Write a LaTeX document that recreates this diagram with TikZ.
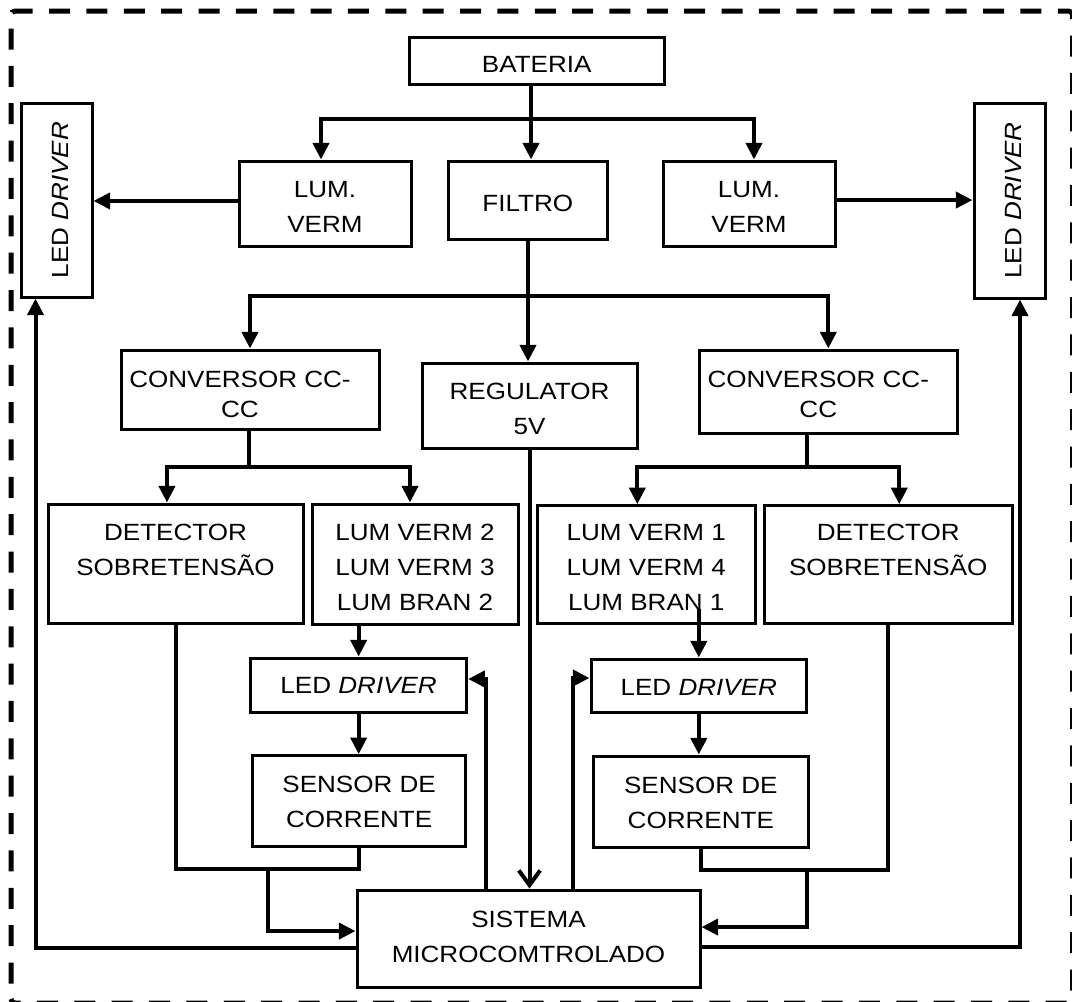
\documentclass[tikz,border=0pt]{standalone}
\usepackage{fontspec}
\usepackage{graphicx}
\setmainfont{Liberation Sans}[FakeStretch=1.11]
\usetikzlibrary{arrows.meta,calc}
% line strut: depth #1, total height #2
\newcommand\sr[2]{\rule[-#1]{0pt}{#2}}
\newcommand\lnstrut{\sr{4.5pt}{26.25pt}}
\begin{document}
\begin{tikzpicture}[x=0.75pt,y=-0.75pt,
  blk/.style={draw,line width=2.25pt,inner sep=0pt,align=center,
    font=\fontsize{17.6pt}{26.25pt}\selectfont},
  tight/.style={font=\fontsize{17.6pt}{22.5pt}\selectfont},
  sz/.style 2 args={minimum width={(#1)*0.75pt},minimum height={(#2)*0.75pt}},
  con/.style={line width=3pt},
  arr/.style={con,-{Triangle[length=12.5pt,width=12pt]}},
  varr/.style={con,-{Straight Barb[length=11pt,width=16pt]}},
  outerframe/.style={line width=3.75pt,dash pattern=on 15.75pt off 12.27pt,
    dash phase=16.4pt,rounded corners=3pt}]

\fill[white] (0,0) rectangle (1072,1001);
\useasboundingbox (0,0) rectangle (1072,1001);

% dashed enclosure
\draw[outerframe] (11,1003) -- (11,11) -- (1072.5,11) -- (1072.5,1003) -- cycle;

% blocks
\node[blk,sz={255.5}{47}] (bat) at (536.75,60.5) {BATERIA\lnstrut};
\node[blk,sz={172}{85}] (luml) at (325,203.5) {LUM.\lnstrut\\VERM\lnstrut};
\node[blk,sz={159.6}{78}] (filtro) at (527.8,200) {FILTRO\lnstrut};
\node[blk,sz={172}{85}] (lumr) at (749,203.5) {LUM.\lnstrut\\VERM\lnstrut};
\node[blk,sz={71}{194}] (ledl) at (56.5,200) {\rotatebox{90}{LED \textit{DRIVER}\lnstrut}};
\node[blk,sz={71.5}{195}] (ledr) at (1009.75,200.5) {\rotatebox{90}{LED \textit{DRIVER}\lnstrut}};

\node[blk,tight,sz={258}{79}] (convl) at (250,389.5)
  {CONVERSOR CC-\hspace*{15pt}\sr{1.65pt}{22.5pt}\\CC\hspace*{15pt}\sr{1.65pt}{22.5pt}};
\node[blk,sz={215}{85}] (reg) at (529.5,405.5) {REGULATOR\lnstrut\\5V\lnstrut};
\node[blk,tight,sz={258.6}{83}] (convr) at (828.3,391.5)
  {CONVERSOR CC-\hspace*{15pt}\sr{3.15pt}{22.5pt}\\CC\hspace*{15pt}\sr{3.15pt}{22.5pt}};

\node[blk,sz={255}{119}] (detl) at (175.5,563.5) {DETECTOR\lnstrut\\SOBRETENSÃO\lnstrut\\\lnstrut};
\node[blk,sz={206}{120}] (lum2) at (415,564) {LUM VERM 2\lnstrut\\LUM VERM 3\lnstrut\\LUM BRAN 2\lnstrut};
\node[blk,sz={217.4}{117.3}] (lum1) at (646.3,564.4) {LUM VERM 1\lnstrut\\LUM VERM 4\lnstrut\\LUM BRAN 1\lnstrut};
\node[blk,sz={247.5}{117.3}] (detr) at (888.25,564.4) {DETECTOR\lnstrut\\SOBRETENSÃO\lnstrut\\\lnstrut};

\node[blk,sz={216}{54}] (drvl) at (358.65,685) {LED \textit{DRIVER}\sr{7.1pt}{26.25pt}};
\node[blk,sz={215.6}{53}] (drvr) at (698.8,685.5) {LED \textit{DRIVER}\sr{6pt}{26.25pt}};
\node[blk,sz={212.7}{91}] (senl) at (359.15,801.2) {SENSOR DE\sr{6.2pt}{26.25pt}\\CORRENTE\sr{6.2pt}{26.25pt}};
\node[blk,sz={215.6}{91}] (senr) at (700.8,801.5) {SENSOR DE\sr{6.2pt}{26.25pt}\\CORRENTE\sr{6.2pt}{26.25pt}};
\node[blk,sz={343}{97}] (sis) at (528.5,938.5) {SISTEMA\sr{8.6pt}{26.25pt}\\MICROCOMTROLADO\sr{8.6pt}{26.25pt}};

% battery distribution
\coordinate (jb) at (531,119);
\draw[con] (bat.south -| jb) -- (jb);
\draw[arr] (jb) -| ([xshift=-3pt]luml.north);
\draw[arr] (jb) -- (filtro.north -| jb);
\draw[arr] (jb) -| ([xshift=3.75pt]lumr.north);

\coordinate (aL) at ([yshift=1.9pt]luml.west);
\draw[arr] (aL) -- (aL -| ledl.east);
\coordinate (aR) at ([yshift=2.6pt]lumr.east);
\draw[arr] (aR) -- (aR -| ledr.west);

% filter distribution
\coordinate (jf) at (528,296);
\draw[con] (filtro.south -| jf) -- (jf);
\draw[arr] (jf) -| (convl.north);
\draw[arr] (jf) -- (reg.north -| jf);
\draw[arr] (jf) -| (convr.north);

% converters
\coordinate (jcl) at (249,467);
\draw[con] (convl.south -| jcl) -- (jcl);
\draw[arr] (jcl) -| ([xshift=-6.4pt]detl.north);
\draw[arr] (jcl) -| ([xshift=-3.75pt]lum2.north);

\coordinate (jcr) at (807,467);
\draw[con] (convr.south -| jcr) -- (jcr);
\draw[arr] (jcr) -| ([xshift=-6.75pt]lum1.north);
\draw[arr] (jcr) -| ([xshift=8.25pt]detr.north);

% lamp chains
\draw[arr] (lum2.south -| drvl.north) -- (drvl.north);
\coordinate (l1s) at ([yshift=12pt]lum1.south);
\draw[arr] (l1s -| drvr.north) -- (drvr.north);
\draw[arr] (drvl.south) -- (senl.north -| drvl.south);
\draw[arr] (drvr.south) -- (senr.north -| drvr.south);

% 5 V supply
\draw[varr] (reg.south) -- (reg.south |- sis.north);

% left feedback loop
\coordinate (jl) at (268,869);
\draw[con] (detl.south) |- (jl) -| (senl.south);
\coordinate (sL1) at ([yshift=5.6pt]sis.west);
\draw[arr] (jl) |- (sL1);
\coordinate (sL2) at ([yshift=-7.1pt]sis.west);
\coordinate (lL) at ([xshift=-15.75pt]ledl.south);
\draw[arr] (sL2) -| (lL);

% right feedback loop
\coordinate (jr) at (807,870);
\draw[con] (senr.south) |- (jr) -| (detr.south);
\coordinate (sR1) at ([yshift=8.6pt]sis.east);
\draw[arr] (jr) |- (sR1);
\coordinate (sR2) at ([yshift=-6.4pt]sis.east);
\coordinate (lR) at ([xshift=7.7pt]ledr.south);
\draw[arr] (sR2) -| (lR);

% driver control
\coordinate (fl) at (486,679);
\draw[arr] (sis.north -| fl) -- (fl) -- (fl -| drvl.east);
\coordinate (fr) at (573,678);
\draw[arr] (sis.north -| fr) -- (fr) -- (fr -| drvr.west);
\end{tikzpicture}
\end{document}
